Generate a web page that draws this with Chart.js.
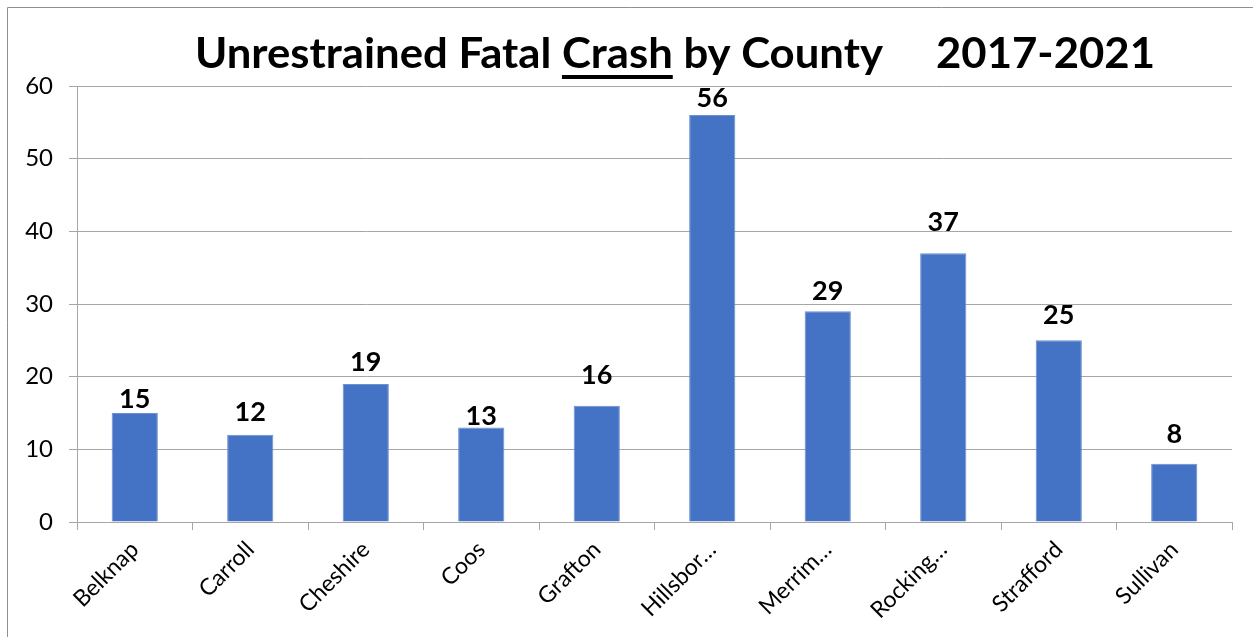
<!DOCTYPE html>
<html>
<head>
<meta charset="utf-8">
<script src="https://cdn.jsdelivr.net/npm/chart.js@4/dist/chart.umd.min.js"></script>
<style>
  html, body { margin: 0; padding: 0; background: #fff; }
  #wrap { position: relative; width: 1253px; height: 637px; }
</style>
</head>
<body>
<div id="wrap"><canvas id="chart"></canvas></div>
<script>
const counties = ["Belknap", "Carroll", "Cheshire", "Coos", "Grafton", "Hillsbor…", "Merrim…", "Rocking…", "Strafford", "Sullivan"];
const crashes = [15, 12, 19, 13, 16, 56, 29, 37, 25, 8];
const yTicks = [0, 10, 20, 30, 40, 50, 60];
// title pieces, the second one is underlined
const titleParts = ["Unrestrained Fatal ", "Crash", " by County", "     2017-2021"];

// labels were nudged by hand in the original, keep that look
const labelGap = [5, 14, 13, 3, 22, 8, 11, 22, 16, 21];

const FONT = "Lato, 'Open Sans', sans-serif";
const GRID = "#a6a6a6";

// outer frame like the original picture
const framePlugin = {
  id: "frame",
  beforeDraw(chart) {
    const c = chart.ctx;
    c.save();
    c.strokeStyle = "#8f8f8f";
    c.lineWidth = 1;
    c.beginPath();
    c.moveTo(7.5, chart.height);
    c.lineTo(7.5, 7.5);
    c.lineTo(chart.width, 7.5);
    c.stroke();
    c.restore();
  },
};

// title with underlined word
const titlePlugin = {
  id: "ulTitle",
  afterDraw(chart) {
    const c = chart.ctx;
    c.save();
    c.font = "bold 42px " + FONT;
    c.fillStyle = "#000";
    c.textBaseline = "alphabetic";
    c.textAlign = "left";
    const widths = titleParts.map((t) => c.measureText(t).width);
    const total = widths.reduce((a, b) => a + b, 0);
    const sx = 960 / total;
    c.translate(675 - 480, 0);
    c.scale(sx, 1);
    let x = 0;
    const y = 68;
    titleParts.forEach((t, i) => {
      c.fillText(t, x, y);
      if (i === 1) {
        c.fillRect(x, y + 7, widths[i], 4);
      }
      x += widths[i];
    });
    c.restore();
  },
};

// value labels over the bars
const labelPlugin = {
  id: "barLabels",
  afterDatasetsDraw(chart) {
    const c = chart.ctx;
    const meta = chart.getDatasetMeta(0);
    c.save();
    c.font = "bold 27px " + FONT;
    c.fillStyle = "#000";
    c.textAlign = "center";
    c.textBaseline = "alphabetic";
    meta.data.forEach((bar, i) => {
      c.fillText(String(crashes[i]), bar.x, bar.y - labelGap[i]);
    });
    c.restore();
  },
};

new Chart(document.getElementById("chart"), {
  type: "bar",
  data: {
    labels: counties,
    datasets: [
      {
        data: crashes,
        backgroundColor: "#4472C4",
        borderColor: "#6b8fd2",
        borderWidth: 1,
        barPercentage: 0.4,
        categoryPercentage: 1,
      },
    ],
  },
  options: {
    responsive: true,
    maintainAspectRatio: false,
    animation: false,
    layout: { padding: { top: 86, right: 21, left: 0, bottom: 0 } },
    plugins: {
      legend: { display: false },
      title: { display: false },
      tooltip: { enabled: false },
    },
    scales: {
      y: {
        min: 0,
        max: 60,
        afterBuildTicks(scale) {
          scale.ticks = yTicks.map((v) => ({ value: v }));
        },
        afterFit(scale) {
          scale.width = 77;
        },
        ticks: { color: "#000", padding: 16, font: { family: FONT, size: 24 } },
        grid: { color: GRID, tickLength: 8, lineWidth: 1 },
        border: { color: GRID },
      },
      x: {
        afterFit(scale) {
          scale.height = 115;
        },
        ticks: {
          color: "#000",
          maxRotation: 45,
          minRotation: 45,
          autoSkip: false,
          padding: 6,
          font: { family: FONT, size: 23 },
        },
        grid: { color: GRID, drawOnChartArea: false, drawTicks: true, tickLength: 8, offset: true },
        border: { color: GRID },
      },
    },
  },
  plugins: [framePlugin, titlePlugin, labelPlugin],
});
</script>
</body>
</html>
